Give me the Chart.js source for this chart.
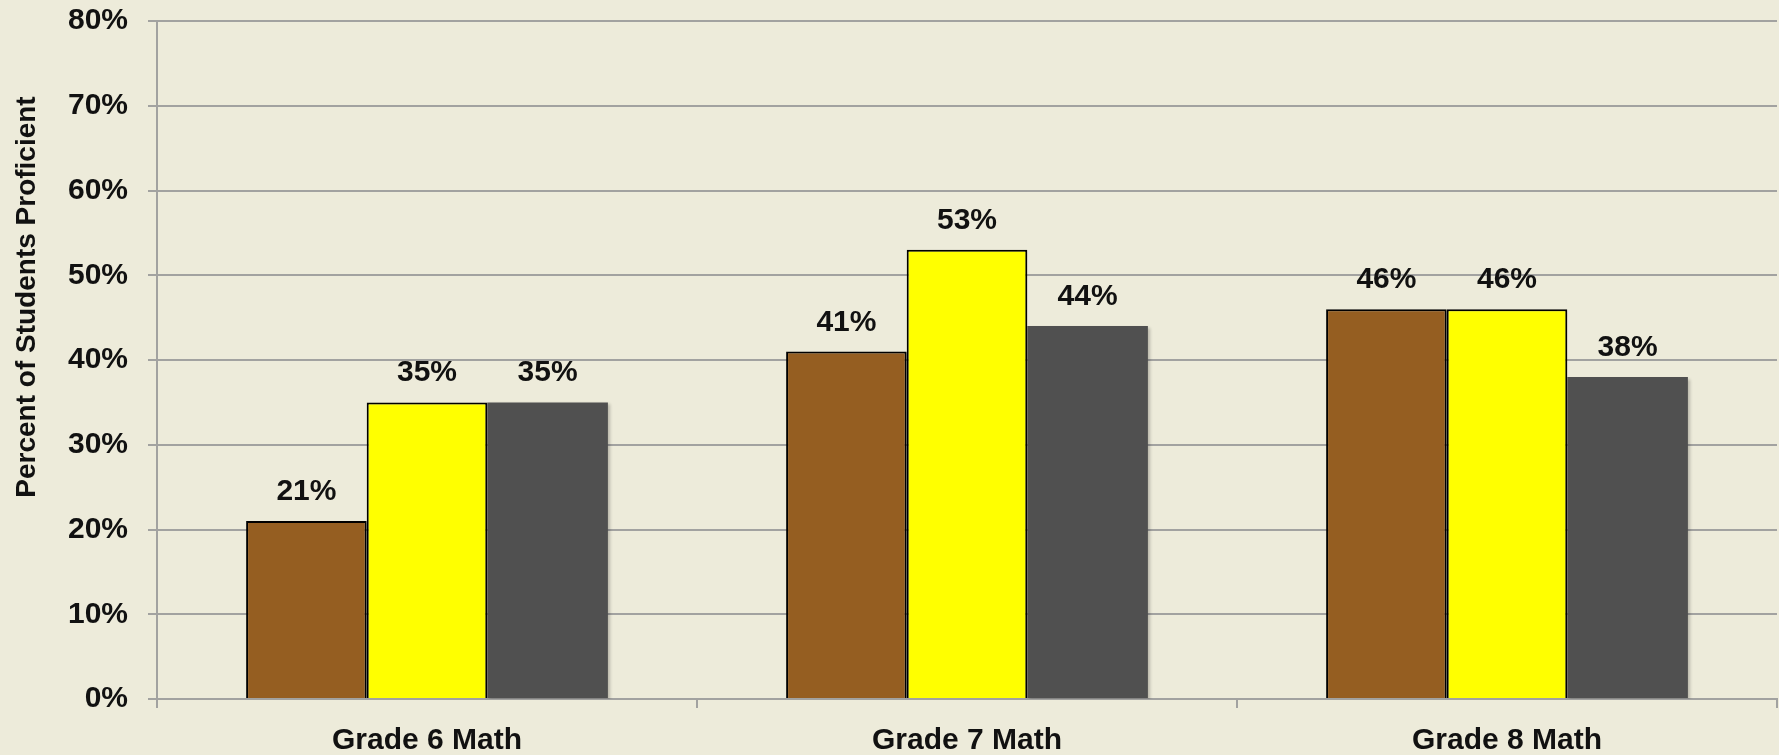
<!DOCTYPE html>
<html>
<head>
<meta charset="utf-8">
<script src="https://cdn.jsdelivr.net/npm/chart.js@4"></script>
<style>
  html, body { margin: 0; padding: 0; background: #EDEBDA; }
  #wrap { width: 1779px; height: 755px; position: relative; }
</style>
</head>
<body>
<div id="wrap"><canvas id="gradeChart"></canvas></div>
<script>
const categories = ["Grade 6 Math", "Grade 7 Math", "Grade 8 Math"];
const seriesA = [21, 41, 46];
const seriesB = [35, 53, 46];
const seriesC = [35, 44, 38];
const yTicks = [0, 10, 20, 30, 40, 50, 60, 70, 80];
const yTitle = "Percent of Students Proficient";

const FONT = "'Liberation Sans', Arial, sans-serif";
const GRID = "#a2a2a0";

// value labels above each bar
const barLabels = {
    id: "barLabels",
    afterDatasetsDraw(chart) {
        const ctx = chart.ctx;
        ctx.save();
        ctx.font = "bold 30px " + FONT;
        ctx.fillStyle = "#111";
        ctx.textAlign = "center";
        ctx.textBaseline = "alphabetic";
        chart.data.datasets.forEach((ds, i) => {
            chart.getDatasetMeta(i).data.forEach((bar, j) => {
                ctx.fillText(ds.data[j] + "%", bar.x, bar.y - 21);
            });
        });
        ctx.restore();
    }
};

// rotated y title, sits a bit above the middle like the original
const yTitlePlugin = {
    id: "yTitlePlugin",
    afterDraw(chart) {
        const ctx = chart.ctx;
        ctx.save();
        ctx.translate(27, 297);
        ctx.rotate(-Math.PI / 2);
        ctx.font = "bold 28px " + FONT;
        ctx.fillStyle = "#111";
        ctx.textAlign = "center";
        ctx.textBaseline = "middle";
        ctx.fillText(yTitle, 0, 0);
        ctx.restore();
    }
};

// soft drop shadow behind the bars
const barShadow = {
    id: "barShadow",
    beforeDatasetsDraw(chart) {
        const ctx = chart.ctx;
        ctx.save();
        ctx.shadowColor = "rgba(0,0,0,0.22)";
        ctx.shadowBlur = 3;
        ctx.shadowOffsetX = 2;
        ctx.shadowOffsetY = 2;
    },
    afterDatasetsDraw(chart) {
        chart.ctx.restore();
    }
};

function createChart() {
    const ctx = document.getElementById("gradeChart").getContext("2d");

    new Chart(ctx, {
        type: "bar",
        data: {
            labels: categories,
            datasets: [{
                label: "Series A",
                data: seriesA,
                backgroundColor: "#955E21",
                borderColor: "#000",
                borderWidth: 2,
                borderSkipped: "bottom"
            }, {
                label: "Series B",
                data: seriesB,
                backgroundColor: "#FFFF00",
                borderColor: "#000",
                borderWidth: 2,
                borderSkipped: "bottom"
            }, {
                label: "Series C",
                data: seriesC,
                backgroundColor: "#505050",
                borderWidth: 0
            }]
        },
        options: {
            responsive: true,
            maintainAspectRatio: false,
            animation: false,
            categoryPercentage: 0.67,
            barPercentage: 1.0,
            layout: { padding: { top: 21, right: 2, left: 0, bottom: 0 } },
            scales: {
                x: {
                    grid: {
                        drawOnChartArea: false,
                        drawTicks: true,
                        tickLength: 9,
                        color: GRID,
                        lineWidth: 2
                    },
                    border: { color: GRID, width: 2 },
                    ticks: {
                        color: "#111",
                        font: { family: FONT, size: 30, weight: "bold" },
                        padding: 15
                    },
                    afterFit(scale) { scale.height = 56; }
                },
                y: {
                    min: 0,
                    max: 80,
                    afterBuildTicks(scale) {
                        scale.ticks = yTicks.map(v => ({ value: v }));
                    },
                    grid: {
                        color: GRID,
                        lineWidth: 2,
                        tickLength: 9
                    },
                    border: { color: GRID, width: 2 },
                    ticks: {
                        color: "#111",
                        font: { family: FONT, size: 30, weight: "bold" },
                        padding: 20,
                        callback: v => v + "%"
                    },
                    afterFit(scale) {
                        scale.width = 157;
                        scale.paddingTop = 0;
                        scale.paddingBottom = 0;
                    }
                }
            },
            plugins: {
                legend: { display: false },
                tooltip: { enabled: false }
            }
        },
        plugins: [barShadow, barLabels, yTitlePlugin]
    });
}

createChart();
</script>
</body>
</html>
